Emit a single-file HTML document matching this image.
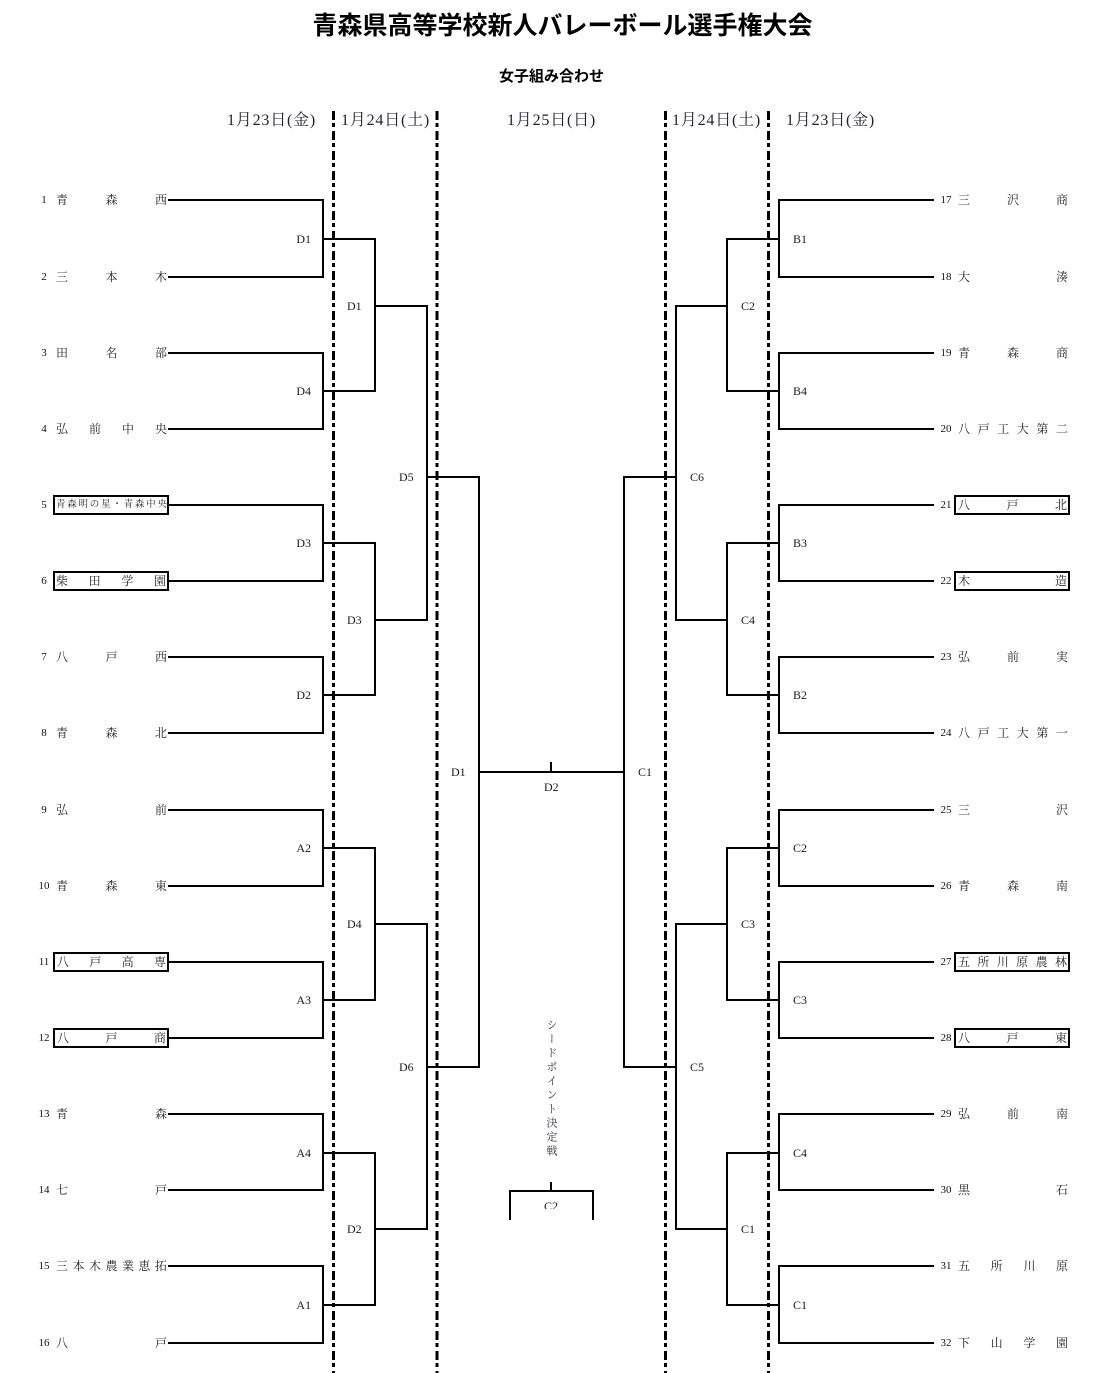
<!DOCTYPE html>
<html><head><meta charset="utf-8">
<style>
html,body{margin:0;padding:0;background:#fff;}
#c{position:relative;width:1109px;height:1373px;overflow:hidden;background:#fff;}
.t{position:absolute;white-space:nowrap;}
.title{left:0;width:1125px;top:12px;text-align:center;font:bold 25px/28px "Liberation Sans","Noto Sans CJK JP",sans-serif;color:#000;}
.sub{left:0;width:1103px;top:68px;text-align:center;font:bold 15px/18px "Liberation Sans","Noto Sans CJK JP",sans-serif;color:#000;}
.date{top:111px;font:16px/19px "Liberation Serif","Noto Serif CJK SC",serif;color:#222233;letter-spacing:0.8px;}
.nm{position:absolute;display:flex;justify-content:space-between;align-items:center;height:16px;font:12px/16px "Liberation Serif","Noto Serif CJK SC",serif;color:#1e1e28;}
.num{position:absolute;width:20px;text-align:center;height:14px;font:11px/14px "Liberation Serif",serif;color:#111;}
.box{position:absolute;border:2px solid #000;box-sizing:border-box;height:20px;background:#fff;}
.lb{position:absolute;height:14px;font:12px/14px "Liberation Serif",serif;color:#1a1a1a;}
.lbr{text-align:right;width:30px;}
.vt{position:absolute;left:544px;top:1019px;writing-mode:vertical-rl;font:11px/14px "Liberation Serif","Noto Serif CJK SC",serif;letter-spacing:3px;color:#2a2a3a;}
</style></head><body><div id="c">

<svg width="1109" height="1373" style="position:absolute;left:0;top:0" xmlns="http://www.w3.org/2000/svg">
<g fill="none" stroke="#000" stroke-width="2" stroke-linejoin="miter">
<path d="M168 200H323V277H168"/>
<path d="M168 353H323V429H168"/>
<path d="M168 505H323V581H168"/>
<path d="M168 657H323V733H168"/>
<path d="M168 810H323V886H168"/>
<path d="M168 962H323V1038H168"/>
<path d="M168 1114H323V1190H168"/>
<path d="M168 1266H323V1343H168"/>
<path d="M323 239H375V391H323"/>
<path d="M323 543H375V695H323"/>
<path d="M323 848H375V1000H323"/>
<path d="M323 1153H375V1305H323"/>
<path d="M375 306H427V620H375"/>
<path d="M375 924H427V1229H375"/>
<path d="M427 477H479V1067H427"/>
<path d="M479 772H624"/>
<path d="M551 762V772"/>
<path d="M676 477H624V1067H676"/>
<path d="M727 306H676V620H727"/>
<path d="M727 924H676V1229H727"/>
<path d="M779 239H727V391H779"/>
<path d="M779 543H727V695H779"/>
<path d="M779 848H727V1000H779"/>
<path d="M779 1153H727V1305H779"/>
<path d="M934 200H779V277H934"/>
<path d="M934 353H779V429H934"/>
<path d="M934 505H779V581H934"/>
<path d="M934 657H779V733H934"/>
<path d="M934 810H779V886H934"/>
<path d="M934 962H779V1038H934"/>
<path d="M934 1114H779V1190H934"/>
<path d="M934 1266H779V1343H934"/>
<path d="M551 1182V1191"/>
<path d="M510 1220V1191H593V1220"/>
</g>
<g stroke="#000" stroke-width="3" stroke-dasharray="9 3 4 4">
<line x1="333.5" y1="111" x2="333.5" y2="1373"/>
<line x1="437" y1="111" x2="437" y2="1373"/>
<line x1="665.5" y1="111" x2="665.5" y2="1373"/>
<line x1="768.5" y1="111" x2="768.5" y2="1373"/>
</g>
</svg>

<div class="t title">青森県高等学校新人バレーボール選手権大会</div>
<div class="t sub">女子組み合わせ</div>
<div class="t date" style="left:227px">1月23日(金)</div>
<div class="t date" style="left:341px">1月24日(土)</div>
<div class="t date" style="left:507px">1月25日(日)</div>
<div class="t date" style="left:672px">1月24日(土)</div>
<div class="t date" style="left:786px">1月23日(金)</div>

<div class="num" style="left:34px;top:193px">1</div>
<div class="num" style="left:34px;top:270px">2</div>
<div class="num" style="left:34px;top:346px">3</div>
<div class="num" style="left:34px;top:422px">4</div>
<div class="num" style="left:34px;top:498px">5</div>
<div class="num" style="left:34px;top:574px">6</div>
<div class="num" style="left:34px;top:650px">7</div>
<div class="num" style="left:34px;top:726px">8</div>
<div class="num" style="left:34px;top:803px">9</div>
<div class="num" style="left:34px;top:879px">10</div>
<div class="num" style="left:34px;top:955px">11</div>
<div class="num" style="left:34px;top:1031px">12</div>
<div class="num" style="left:34px;top:1107px">13</div>
<div class="num" style="left:34px;top:1183px">14</div>
<div class="num" style="left:34px;top:1259px">15</div>
<div class="num" style="left:34px;top:1336px">16</div>

<div class="box" style="left:53px;top:495px;width:116px"></div>
<div class="box" style="left:53px;top:571px;width:116px"></div>
<div class="box" style="left:53px;top:952px;width:116px"></div>
<div class="box" style="left:53px;top:1028px;width:116px"></div>

<div class="nm" style="left:56px;width:111px;top:192px"><span>青</span><span>森</span><span>西</span></div>
<div class="nm" style="left:56px;width:111px;top:269px"><span>三</span><span>本</span><span>木</span></div>
<div class="nm" style="left:56px;width:111px;top:345px"><span>田</span><span>名</span><span>部</span></div>
<div class="nm" style="left:56px;width:111px;top:421px"><span>弘</span><span>前</span><span>中</span><span>央</span></div>
<div class="nm" style="left:56px;width:111px;top:497px;font-size:9.5px"><span>青</span><span>森</span><span>明</span><span>の</span><span>星</span><span>・</span><span>青</span><span>森</span><span>中</span><span>央</span></div>
<div class="nm" style="left:56px;width:110px;top:573px"><span>柴</span><span>田</span><span>学</span><span>園</span></div>
<div class="nm" style="left:56px;width:111px;top:649px"><span>八</span><span>戸</span><span>西</span></div>
<div class="nm" style="left:56px;width:111px;top:725px"><span>青</span><span>森</span><span>北</span></div>
<div class="nm" style="left:56px;width:111px;top:802px"><span>弘</span><span>前</span></div>
<div class="nm" style="left:56px;width:111px;top:878px"><span>青</span><span>森</span><span>東</span></div>
<div class="nm" style="left:57px;width:109px;top:954px"><span>八</span><span>戸</span><span>高</span><span>専</span></div>
<div class="nm" style="left:57px;width:109px;top:1030px"><span>八</span><span>戸</span><span>商</span></div>
<div class="nm" style="left:56px;width:111px;top:1106px"><span>青</span><span>森</span></div>
<div class="nm" style="left:56px;width:111px;top:1182px"><span>七</span><span>戸</span></div>
<div class="nm" style="left:56px;width:111px;top:1258px"><span>三</span><span>本</span><span>木</span><span>農</span><span>業</span><span>恵</span><span>拓</span></div>
<div class="nm" style="left:56px;width:111px;top:1335px"><span>八</span><span>戸</span></div>

<div class="num" style="left:936px;top:193px">17</div>
<div class="num" style="left:936px;top:270px">18</div>
<div class="num" style="left:936px;top:346px">19</div>
<div class="num" style="left:936px;top:422px">20</div>
<div class="num" style="left:936px;top:498px">21</div>
<div class="num" style="left:936px;top:574px">22</div>
<div class="num" style="left:936px;top:650px">23</div>
<div class="num" style="left:936px;top:726px">24</div>
<div class="num" style="left:936px;top:803px">25</div>
<div class="num" style="left:936px;top:879px">26</div>
<div class="num" style="left:936px;top:955px">27</div>
<div class="num" style="left:936px;top:1031px">28</div>
<div class="num" style="left:936px;top:1107px">29</div>
<div class="num" style="left:936px;top:1183px">30</div>
<div class="num" style="left:936px;top:1259px">31</div>
<div class="num" style="left:936px;top:1336px">32</div>

<div class="box" style="left:954px;top:495px;width:116px"></div>
<div class="box" style="left:954px;top:571px;width:116px"></div>
<div class="box" style="left:954px;top:952px;width:116px"></div>
<div class="box" style="left:954px;top:1028px;width:116px"></div>

<div class="nm" style="left:958px;width:110px;top:192px"><span>三</span><span>沢</span><span>商</span></div>
<div class="nm" style="left:958px;width:110px;top:269px"><span>大</span><span>湊</span></div>
<div class="nm" style="left:958px;width:110px;top:345px"><span>青</span><span>森</span><span>商</span></div>
<div class="nm" style="left:958px;width:110px;top:421px"><span>八</span><span>戸</span><span>工</span><span>大</span><span>第</span><span>二</span></div>
<div class="nm" style="left:958px;width:109px;top:497px"><span>八</span><span>戸</span><span>北</span></div>
<div class="nm" style="left:958px;width:109px;top:573px"><span>木</span><span>造</span></div>
<div class="nm" style="left:958px;width:110px;top:649px"><span>弘</span><span>前</span><span>実</span></div>
<div class="nm" style="left:958px;width:110px;top:725px"><span>八</span><span>戸</span><span>工</span><span>大</span><span>第</span><span>一</span></div>
<div class="nm" style="left:958px;width:110px;top:802px"><span>三</span><span>沢</span></div>
<div class="nm" style="left:958px;width:110px;top:878px"><span>青</span><span>森</span><span>南</span></div>
<div class="nm" style="left:958px;width:109px;top:954px"><span>五</span><span>所</span><span>川</span><span>原</span><span>農</span><span>林</span></div>
<div class="nm" style="left:958px;width:109px;top:1030px"><span>八</span><span>戸</span><span>東</span></div>
<div class="nm" style="left:958px;width:110px;top:1106px"><span>弘</span><span>前</span><span>南</span></div>
<div class="nm" style="left:958px;width:110px;top:1182px"><span>黒</span><span>石</span></div>
<div class="nm" style="left:958px;width:110px;top:1258px"><span>五</span><span>所</span><span>川</span><span>原</span></div>
<div class="nm" style="left:958px;width:110px;top:1335px"><span>下</span><span>山</span><span>学</span><span>園</span></div>

<div class="lb lbr" style="left:281px;top:232px">D1</div>
<div class="lb lbr" style="left:281px;top:384px">D4</div>
<div class="lb lbr" style="left:281px;top:536px">D3</div>
<div class="lb lbr" style="left:281px;top:688px">D2</div>
<div class="lb lbr" style="left:281px;top:841px">A2</div>
<div class="lb lbr" style="left:281px;top:993px">A3</div>
<div class="lb lbr" style="left:281px;top:1146px">A4</div>
<div class="lb lbr" style="left:281px;top:1298px">A1</div>
<div class="lb" style="left:347px;top:299px">D1</div>
<div class="lb" style="left:347px;top:613px">D3</div>
<div class="lb" style="left:347px;top:917px">D4</div>
<div class="lb" style="left:347px;top:1222px">D2</div>
<div class="lb" style="left:399px;top:470px">D5</div>
<div class="lb" style="left:399px;top:1060px">D6</div>
<div class="lb" style="left:451px;top:765px">D1</div>
<div class="lb" style="left:544px;top:780px">D2</div>
<div class="lb" style="left:638px;top:765px">C1</div>
<div class="lb" style="left:690px;top:470px">C6</div>
<div class="lb" style="left:690px;top:1060px">C5</div>
<div class="lb" style="left:741px;top:299px">C2</div>
<div class="lb" style="left:741px;top:613px">C4</div>
<div class="lb" style="left:741px;top:917px">C3</div>
<div class="lb" style="left:741px;top:1222px">C1</div>
<div class="lb" style="left:793px;top:232px">B1</div>
<div class="lb" style="left:793px;top:384px">B4</div>
<div class="lb" style="left:793px;top:536px">B3</div>
<div class="lb" style="left:793px;top:688px">B2</div>
<div class="lb" style="left:793px;top:841px">C2</div>
<div class="lb" style="left:793px;top:993px">C3</div>
<div class="lb" style="left:793px;top:1146px">C4</div>
<div class="lb" style="left:793px;top:1298px">C1</div>

<div class="vt">シードポイント決定戦</div>
<div style="position:absolute;left:540px;top:1199px;width:24px;height:10px;overflow:hidden;">
<div class="lb" style="left:4px;top:0px">C2</div>
</div>

</div></body></html>
